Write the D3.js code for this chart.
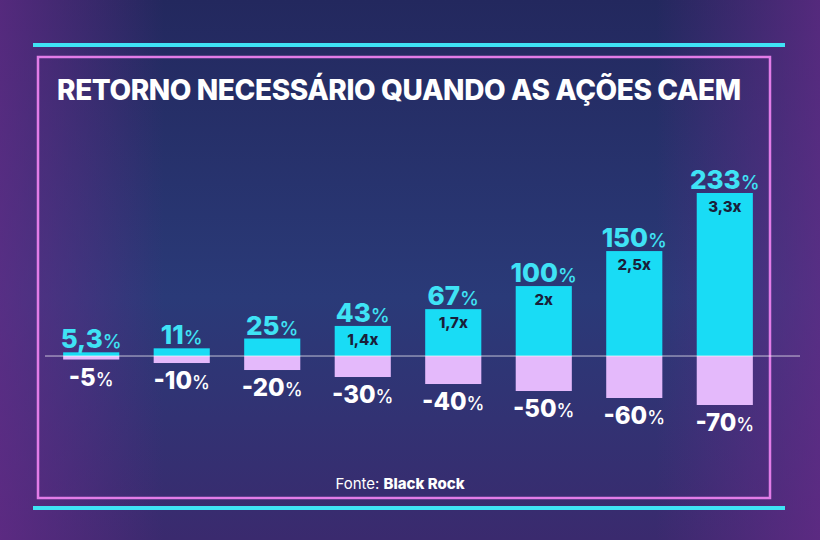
<!DOCTYPE html>
<html><head><meta charset="utf-8">
<script src="https://cdn.jsdelivr.net/npm/d3@7"></script>
<style>body{margin:0;background:#1c1f4a;}svg{display:block;font-family:Inter,"Open Sans",sans-serif;}</style>
</head><body>
<script>
// data
var drops = [-5, -10, -20, -30, -40, -50, -60, -70];
var gains = [5.3, 11, 25, 43, 67, 100, 150, 233];
var gainLabels = ["5,3", "11", "25", "43", "67", "100", "150", "233"];
var multLabels = ["", "", "", "1,4x", "1,7x", "2x", "2,5x", "3,3x"];

var W = 820, H = 540;
var svg = d3.select("body").append("svg").attr("width", W).attr("height", H);

var defs = svg.append("defs");
var bg = defs.append("linearGradient").attr("id", "bg").attr("x1", 0).attr("y1", 0).attr("x2", 0).attr("y2", 1);
bg.append("stop").attr("offset", "0%").attr("stop-color", "#23285e");
bg.append("stop").attr("offset", "55%").attr("stop-color", "#2a3a78");
bg.append("stop").attr("offset", "100%").attr("stop-color", "#3a2a6e");
var side = defs.append("linearGradient").attr("id", "side").attr("x1", 0).attr("y1", 0).attr("x2", 1).attr("y2", 0);
side.append("stop").attr("offset", "0%").attr("stop-color", "#6a2a8a").attr("stop-opacity", 0.7);
side.append("stop").attr("offset", "20%").attr("stop-color", "#6a2a8a").attr("stop-opacity", 0);
side.append("stop").attr("offset", "80%").attr("stop-color", "#6a2a8a").attr("stop-opacity", 0);
side.append("stop").attr("offset", "100%").attr("stop-color", "#6a2a8a").attr("stop-opacity", 0.7);

svg.append("rect").attr("width", W).attr("height", H).attr("fill", "url(#bg)");
svg.append("rect").attr("width", W).attr("height", H).attr("fill", "url(#side)");

// frame
svg.append("line").attr("x1", 33).attr("x2", 785).attr("y1", 45).attr("y2", 45)
  .attr("stroke", "#3fe3f5").attr("stroke-width", 4);
svg.append("line").attr("x1", 33).attr("x2", 785).attr("y1", 508).attr("y2", 508)
  .attr("stroke", "#3fe3f5").attr("stroke-width", 4);
svg.append("rect").attr("x", 38).attr("y", 57).attr("width", 732).attr("height", 441)
  .attr("fill", "none").attr("stroke", "#e27ce8").attr("stroke-width", 2.5);

svg.append("text").attr("x", 57).attr("y", 100).attr("fill", "#fff")
  .attr("font-size", 28).attr("font-weight", 800).attr("letter-spacing", -0.4)
  .text("RETORNO NECESSÁRIO QUANDO AS AÇÕES CAEM");

var x = d3.scaleBand().domain(d3.range(gains.length)).range([36, 780]).paddingInner(0.38).paddingOuter(0.3);
var y = d3.scaleLinear().domain([-70, 233]).range([405, 193]);

var g = svg.append("g");
g.selectAll(".pos").data(gains).enter().append("rect")
  .attr("x", (d, i) => x(i)).attr("width", x.bandwidth())
  .attr("y", d => y(d)).attr("height", d => y(0) - y(d)).attr("fill", "#19dcf5");
g.selectAll(".neg").data(drops).enter().append("rect")
  .attr("x", (d, i) => x(i)).attr("width", x.bandwidth())
  .attr("y", y(0)).attr("height", d => y(d) - y(0)).attr("fill", "#e4b9fb");
g.append("line").attr("x1", 45).attr("x2", 800).attr("y1", y(0)).attr("y2", y(0))
  .attr("stroke", "#ffffff").attr("stroke-opacity", 0.7);

var gl = g.selectAll(".gl").data(gains).enter().append("text")
  .attr("x", (d, i) => x(i) + x.bandwidth() / 2).attr("y", d => y(d) - 4)
  .attr("text-anchor", "middle").attr("fill", "#3fe3f5").attr("font-weight", 800).attr("font-size", 26);
gl.append("tspan").text((d, i) => gainLabels[i]);
gl.append("tspan").attr("font-size", 19).attr("font-weight", 500).text("%");

g.selectAll(".ml").data(gains).enter().append("text")
  .attr("x", (d, i) => x(i) + x.bandwidth() / 2).attr("y", d => y(d) + 19)
  .attr("text-anchor", "middle").attr("fill", "#1a1f3a").attr("font-weight", 800).attr("font-size", 15)
  .text((d, i) => multLabels[i]);

var dl = g.selectAll(".dl").data(drops).enter().append("text")
  .attr("x", (d, i) => x(i) + x.bandwidth() / 2).attr("y", d => y(d) + 26)
  .attr("text-anchor", "middle").attr("fill", "#fff").attr("font-weight", 800).attr("font-size", 24);
dl.append("tspan").text(d => d);
dl.append("tspan").attr("font-size", 18).attr("font-weight", 500).text("%");

var f = svg.append("text").attr("x", 400).attr("y", 489).attr("text-anchor", "middle")
  .attr("fill", "#fff").attr("font-size", 15);
f.append("tspan").text("Fonte: ");
f.append("tspan").attr("font-weight", 800).text("Black Rock");
</script>
</body></html>
